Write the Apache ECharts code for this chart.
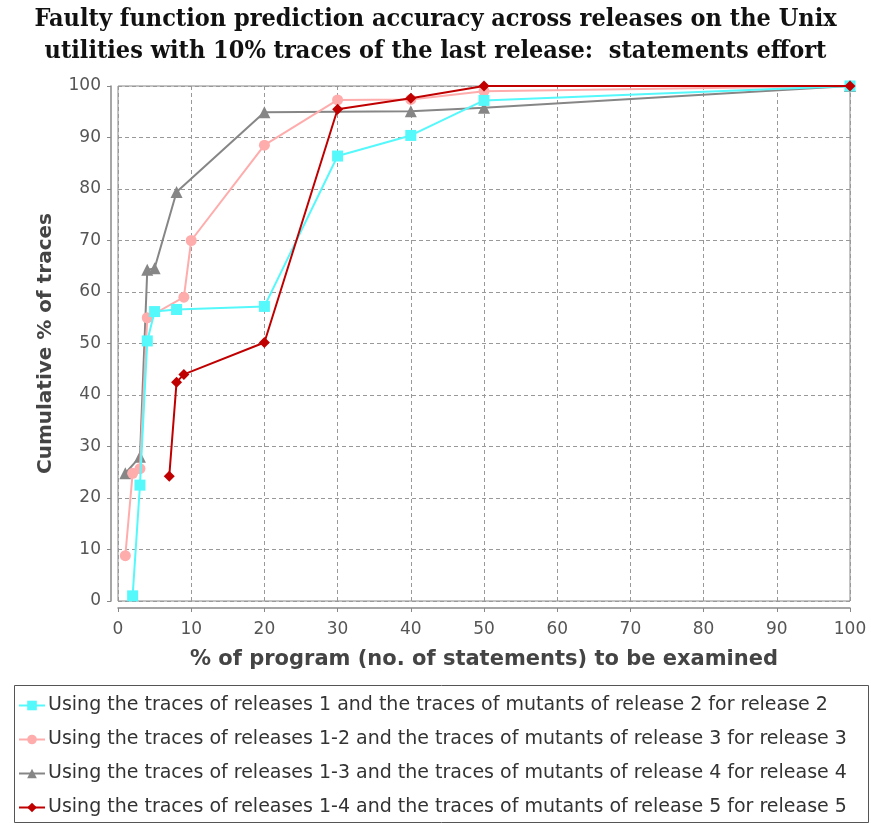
<!DOCTYPE html>
<html><head><meta charset="utf-8">
<script src="https://cdn.jsdelivr.net/npm/echarts@6/dist/echarts.min.js"></script>
<style>html,body{margin:0;padding:0;background:#fff}#c{width:871px;height:823px}</style>
</head><body><div id="c"></div>
<script>
const titleText = "Faulty function prediction accuracy across releases on the Unix\nutilities with 10% traces of the last release:  statements effort";
const xName = "% of program (no. of statements) to be examined";
const yName = "Cumulative % of traces";
const seriesNames = [
  "Using the traces of releases 1 and the traces of mutants of release 2 for release 2",
  "Using the traces of releases 1-2 and the traces of mutants of release 3 for release 3",
  "Using the traces of releases 1-3 and the traces of mutants of release 4 for release 4",
  "Using the traces of releases 1-4 and the traces of mutants of release 5 for release 5"
];
const xCyan = [2, 3, 4, 5, 8, 20, 30, 40, 50, 100];
const yCyan = [1, 22.5, 50.5, 56.2, 56.6, 57.2, 86.4, 90.4, 97.2, 100];
const xPink = [1, 2, 3, 4, 9, 10, 20, 30, 40, 50, 100];
const yPink = [8.8, 24.8, 25.7, 55, 59, 70, 88.5, 97.3, 97.4, 99, 100];
const xGray = [1, 3, 4, 5, 8, 20, 40, 50, 100];
const yGray = [24.8, 28, 64.3, 64.6, 79.4, 94.9, 95.1, 95.8, 100];
const xRed = [7, 8, 9, 20, 30, 40, 50, 100];
const yRed = [24.2, 42.5, 44, 50.2, 95.5, 97.6, 100, 100];

const colors = ['#55f8fb', '#ffacac', '#868686', '#c00000'];
const symbols = ['rect', 'circle', 'triangle', 'diamond'];
const xs = [xCyan, xPink, xGray, xRed];
const ys = [yCyan, yPink, yGray, yRed];
const zs = [4, 3, 2, 5];

const chart = echarts.init(document.getElementById('c'));
const series = seriesNames.map((n, i) => ({
  name: n, type: 'line', z: zs[i],
  data: xs[i].map((x, k) => [x, ys[i][k]]),
  symbol: symbols[i], symbolSize: i === 2 ? 12 : 11,
  lineStyle: { color: colors[i], width: 2 },
  itemStyle: { color: colors[i] },
  showAllSymbol: true
}));
const axisCommon = {
  type: 'value', min: 0, max: 100, interval: 10, offset: 7,
  nameLocation: 'middle',
  nameTextStyle: { fontFamily: 'DejaVu Sans', fontWeight: 'bold', fontSize: 21, color: '#444' },
  axisLine: { show: true, onZero: false, lineStyle: { color: '#888', width: 1.5 } },
  axisTick: { show: true, length: 4, lineStyle: { color: '#888' } },
  splitLine: { show: true, lineStyle: { color: '#999', type: [4, 3] } }
};
chart.setOption({
  animation: false,
  backgroundColor: '#fff',
  title: {
    text: titleText, left: 'center', top: -2,
    textStyle: { fontFamily: 'DejaVu Serif Condensed', fontWeight: 'bold', fontSize: 25, lineHeight: 32, color: '#111' }
  },
  grid: { left: 118, right: 21, top: 86, bottom: 222, show: true, borderColor: '#888', borderWidth: 1 },
  xAxis: Object.assign({}, axisCommon, {
    name: xName, nameGap: 41,
    axisLabel: { fontFamily: 'DejaVu Sans', fontSize: 17, color: '#555', margin: 13 }
  }),
  yAxis: Object.assign({}, axisCommon, {
    name: yName, nameGap: 55, nameRotate: 90,
    nameTextStyle: { fontFamily: 'DejaVu Sans', fontWeight: 'bold', fontSize: 20, color: '#444' },
    axisLabel: { fontFamily: 'DejaVu Sans', fontSize: 17, color: '#555', margin: 10 }
  }),
  legend: {
    orient: 'vertical', left: 13, top: 691, itemGap: 15,
    itemWidth: 26, itemHeight: 12,
    data: seriesNames,
    textStyle: { fontFamily: 'DejaVu Sans', fontSize: 19, color: '#333', padding: [0, 0, 0, -2] }
  },
  graphic: [{
    type: 'rect', left: 12, top: 683, shape: { width: 854, height: 137 },
    style: { fill: 'none', stroke: '#555', lineWidth: 1 }, silent: true
  }],
  series: series
});
</script></body></html>
